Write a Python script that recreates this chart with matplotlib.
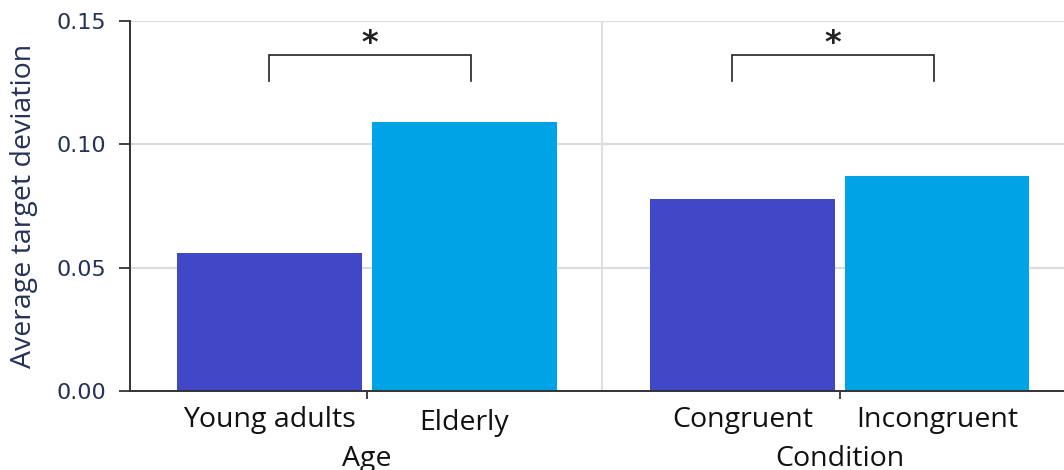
import matplotlib
matplotlib.use("Agg")
import matplotlib.pyplot as plt

# Data
groups = ["Age", "Condition"]
levels = [["Young adults", "Elderly"], ["Congruent", "Incongruent"]]
values = [[0.056, 0.109], [0.078, 0.087]]
significance = ["*", "*"]
yticks = [0.00, 0.05, 0.10, 0.15]

colors = ["#4048c8", "#00a3e6"]
bar_w = 0.39
offset = 0.206
# bracket spans relative to each group centre
bracket_spans = [(-0.207, 0.220), (-0.228, 0.199)]
label_font = "Open Sans"
label_size = 20.5

fig = plt.figure(figsize=(10.64, 4.70), dpi=100)
ax = fig.add_axes([130 / 1064, 1 - 391 / 470, 934 / 1064, 370 / 470])

ax.set_xlim(-0.501, 1.474)
ax.set_ylim(0, 0.15)

# grid and group separator
for yv in yticks[1:]:
    ax.axhline(yv, color="#dcdcdc", lw=1.6, zorder=0)
ax.axvline(0.497, color="#dcdcdc", lw=1.3, zorder=0)

for gi, (g, labs, vals) in enumerate(zip(groups, levels, values)):
    for li, (lab, v) in enumerate(zip(labs, vals)):
        xc = gi + (-offset if li == 0 else offset)
        ax.bar(xc, v, width=bar_w, color=colors[li], edgecolor="none", zorder=2)
        base = -0.0146 if not (gi == 0 and li == 1) else -0.0158
        ax.text(xc, base, lab, ha="center", va="baseline",
                fontsize=label_size, family=label_font, color="#111111")
    ax.text(gi, -0.0303, g, ha="center", va="baseline",
            fontsize=label_size, family=label_font, color="#111111")
    # significance bracket
    xl, xr = gi + bracket_spans[gi][0], gi + bracket_spans[gi][1]
    ax.plot([xl, xl, xr, xr], [0.1256, 0.1362, 0.1362, 0.1256],
            color="#222222", lw=1.2, zorder=3, solid_joinstyle="miter")
    ax.text((xl + xr) / 2, 0.1410, significance[gi], ha="center", va="center",
            fontsize=23, fontweight="bold", color="#222222")

ax.set_xticks([0, 1])
ax.set_xticklabels([])
ax.tick_params(axis="x", length=6, width=1.3, color="#333333", direction="out")
ax.set_yticks(yticks)
ax.set_yticklabels([f"{t:.2f}" for t in yticks])
ax.tick_params(axis="y", length=8, width=1.3, color="#333333", labelsize=16,
               labelcolor="#23325a", pad=9)

for s in ["top", "right"]:
    ax.spines[s].set_visible(False)
for s in ["left", "bottom"]:
    ax.spines[s].set_color("#333333")
    ax.spines[s].set_linewidth(1.4)
ax.set_ylabel("Average target deviation", fontsize=20.5, family=label_font,
              color="#23325a")
ax.yaxis.set_label_coords(-92 / 934, 0.5)

fig.savefig("out.png", dpi=100)
